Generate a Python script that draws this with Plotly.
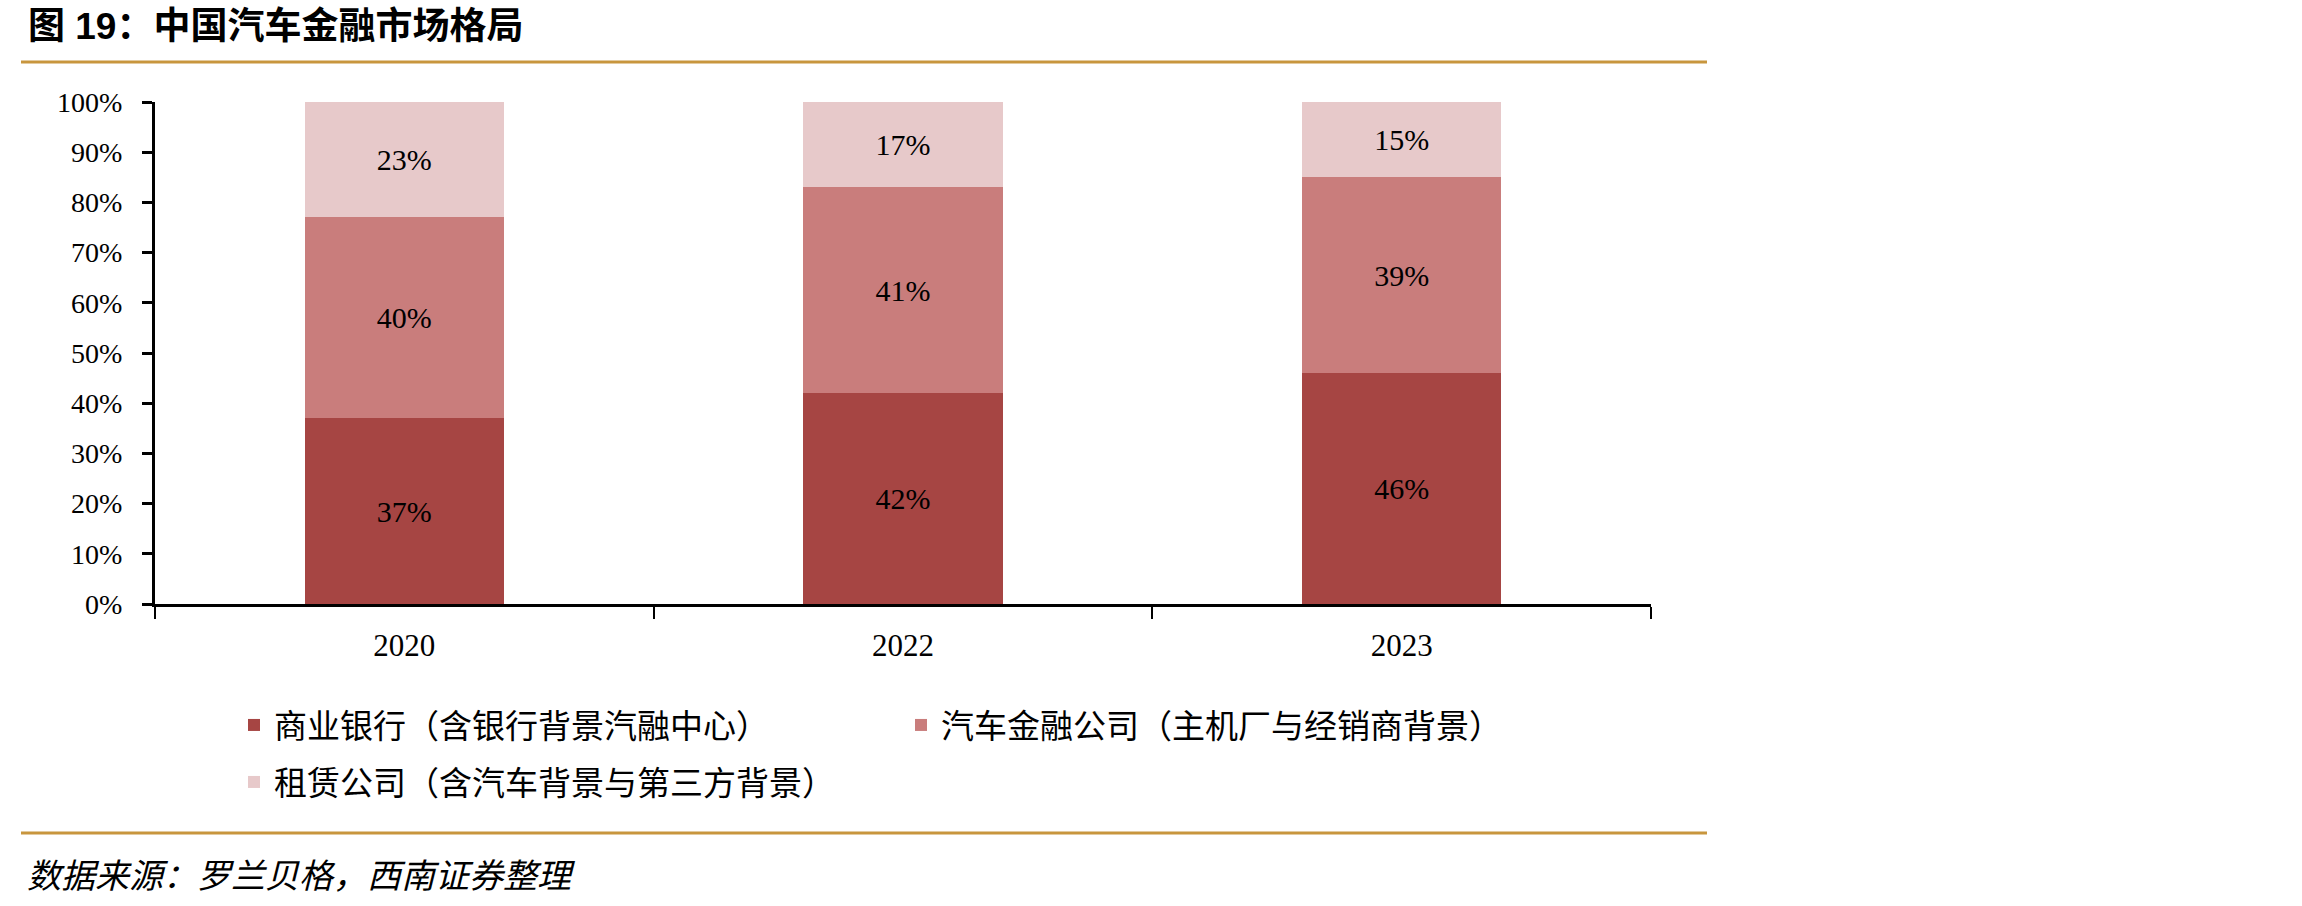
import plotly.graph_objects as go

years = ["2020", "2022", "2023"]
bank = [37, 42, 46]
auto_finance = [40, 41, 39]
leasing = [23, 17, 15]
series_names = [
    "商业银行（含银行背景汽融中心）",
    "汽车金融公司（主机厂与经销商背景）",
    "租赁公司（含汽车背景与第三方背景）",
]
colors = ["#A64543", "#C97D7C", "#E7C9CA"]
y_ticks = list(range(0, 101, 10))

W, H = 2302, 906
L, R, T, B = 155, 1651, 102, 604
pw, ph = R - L, B - T


def px(x):
    return (x - L) / pw


def py(y):
    return (B - y) / ph


num_font = "Liberation Serif, Times New Roman, serif"
cjk_font = "Noto Sans CJK SC, sans-serif"

fig = go.Figure()
for vals, name, col, leg in zip([bank, auto_finance, leasing], series_names, colors,
                                ["legend", "legend", "legend2"]):
    fig.add_trace(go.Bar(
        x=years, y=vals, name=name, marker=dict(color=col, line=dict(width=0)),
        width=0.4, text=[f"{v}%" for v in vals], textposition="inside",
        insidetextanchor="middle", textangle=0,
        textfont=dict(family=num_font, size=30, color="black"),
        legend=leg,
    ))

fig.update_layout(
    width=W, height=H,
    margin=dict(l=L, r=W - R, t=T, b=H - B, pad=0),
    barmode="stack",
    paper_bgcolor="white", plot_bgcolor="white",
    font=dict(family=num_font, color="black"),
    xaxis=dict(
        type="category", range=[-0.5, 2.5], showline=True, linecolor="black", linewidth=3,
        ticks="outside", ticklen=12, tickwidth=2, tickcolor="black", tickson="boundaries",
        showgrid=False, tickfont=dict(family=num_font, size=31), ticklabelstandoff=12,
    ),
    yaxis=dict(
        range=[0, 100], tickvals=y_ticks, ticktext=[f"{v}%" for v in y_ticks],
        showline=True, linecolor="black", linewidth=3, ticks="outside", ticklen=10,
        tickwidth=2.5, tickcolor="black", showgrid=False, zeroline=False,
        tickfont=dict(family=num_font, size=28), ticklabelstandoff=14,
    ),
    legend=dict(
        orientation="h", x=px(234), xanchor="left", y=py(725), yanchor="middle",
        entrywidth=622, entrywidthmode="pixels", font=dict(family=cjk_font, size=33),
        bgcolor="rgba(0,0,0,0)", itemclick=False, traceorder="normal",
    ),
    legend2=dict(
        orientation="h", x=px(234), xanchor="left", y=py(782), yanchor="middle",
        font=dict(family=cjk_font, size=33), bgcolor="rgba(0,0,0,0)",
    ),
    shapes=[
        dict(type="line", xref="paper", yref="paper", x0=px(21), x1=px(1707),
             y0=py(62), y1=py(62), line=dict(color="#C8963E", width=3)),
        dict(type="line", xref="paper", yref="paper", x0=px(21), x1=px(1707),
             y0=py(833), y1=py(833), line=dict(color="#C8963E", width=3)),
    ],
    annotations=[
        dict(text="<b>图 19：中国汽车金融市场格局</b>", xref="paper", yref="paper",
             x=px(26), y=py(27), xanchor="left", yanchor="middle", showarrow=False,
             font=dict(family="Liberation Sans, " + cjk_font, size=37, color="black")),
        dict(text="数据来源：罗兰贝格，西南证券整理", xref="paper", yref="paper",
             x=px(25), y=py(873), xanchor="left", yanchor="middle", showarrow=False,
             font=dict(family=cjk_font, size=34, color="black", style="italic")),
    ],
)

fig.write_html("out.html")
